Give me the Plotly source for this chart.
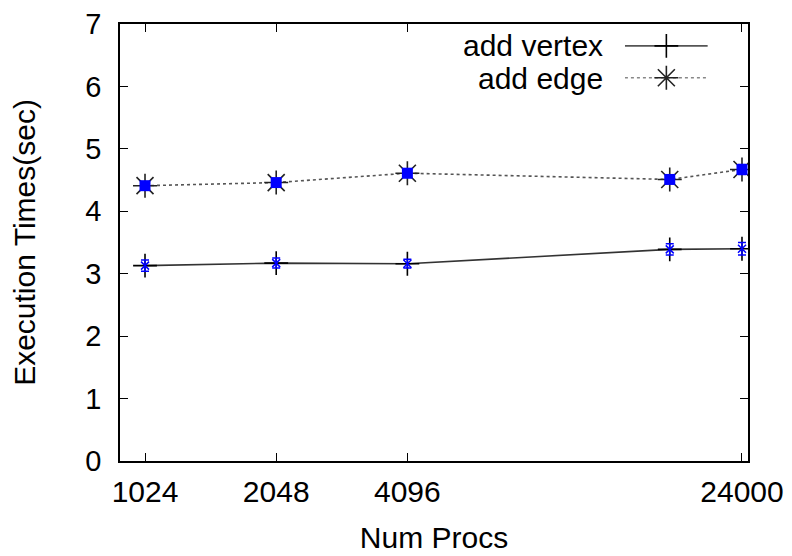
import plotly.graph_objects as go

procs = [1024, 2048, 4096, 16384, 24000]
tick_vals = [1024, 2048, 4096, 24000]
tick_text = ["1024", "2048", "4096", "24000"]
add_vertex = [3.13, 3.17, 3.16, 3.39, 3.40]
add_vertex_err = [0.09, 0.08, 0.07, 0.09, 0.10]
add_edge = [4.41, 4.46, 4.61, 4.51, 4.67]
add_edge_err = [0.06, 0.06, 0.07, 0.06, 0.08]
series_names = ["add vertex", "add edge"]

FONT = "Liberation Sans, Arial, Helvetica, sans-serif"
FS = 30
fig = go.Figure()

fig.add_trace(go.Scatter(
    x=procs, y=add_vertex, mode="lines+markers", name=series_names[0],
    line=dict(color="#333333", width=1.6),
    marker=dict(symbol="cross-thin", size=17, color="black", line=dict(color="black", width=1.6)),
    showlegend=False))
fig.add_trace(go.Scatter(
    x=procs, y=add_edge, mode="lines+markers", name=series_names[1],
    line=dict(color="#555555", width=1.6, dash="dot"),
    marker=dict(symbol="asterisk-open", size=20, color="#222222", line=dict(color="#222222", width=1.6)),
    showlegend=False))
# blue measurement points with error bars
fig.add_trace(go.Scatter(
    x=procs, y=add_vertex, mode="markers",
    marker=dict(symbol="x-thin", size=8, color="blue", line=dict(color="blue", width=1.5)),
    error_y=dict(type="data", array=add_vertex_err, color="blue", thickness=1.5, width=4),
    showlegend=False))
fig.add_trace(go.Scatter(
    x=procs, y=add_edge, mode="markers",
    marker=dict(symbol="square", size=11, color="blue"),
    error_y=dict(type="data", array=add_edge_err, color="blue", thickness=1.5, width=4),
    showlegend=False))

# legend samples on an auxiliary axis pair
fig.add_trace(go.Scatter(x=[0, 1, 2], y=[1, 1, 1], xaxis="x2", yaxis="y2", mode="lines",
                         line=dict(color="#555555", width=1.6), showlegend=False, hoverinfo="skip"))
fig.add_trace(go.Scatter(x=[1], y=[1], xaxis="x2", yaxis="y2", mode="markers",
                         marker=dict(symbol="cross-thin", size=17, color="black",
                                     line=dict(color="black", width=1.6)),
                         showlegend=False, hoverinfo="skip"))
fig.add_trace(go.Scatter(x=[0, 1, 2], y=[0, 0, 0], xaxis="x2", yaxis="y2", mode="lines",
                         line=dict(color="#888888", width=1.6, dash="dot"), showlegend=False, hoverinfo="skip"))
fig.add_trace(go.Scatter(x=[1], y=[0], xaxis="x2", yaxis="y2", mode="markers",
                         marker=dict(symbol="asterisk-open", size=20, color="#222222",
                                     line=dict(color="#222222", width=1.6)),
                         showlegend=False, hoverinfo="skip"))

for name, yp in zip(series_names, [0.950, 0.876]):
    fig.add_annotation(xref="paper", yref="paper", x=0.772, y=yp, text=name, showarrow=False,
                       xanchor="right", yanchor="middle", font=dict(family=FONT, size=FS, color="black"))

fig.update_layout(
    width=784, height=548,
    margin=dict(l=112, r=44, t=16, b=95),
    paper_bgcolor="white", plot_bgcolor="white",
    font=dict(family=FONT, size=FS, color="black"),
    xaxis=dict(type="log", range=[2.9529, 4.394], tickvals=tick_vals, ticktext=tick_text,
               ticks="inside", ticklen=8, tickwidth=1.3, tickcolor="black",
               showline=True, linecolor="black", linewidth=1.5, mirror="allticks",
               showgrid=False, zeroline=False, automargin=False, ticklabelstandoff=3,
               ticklabeloverflow="allow",
               title=dict(text="Num Procs", font=dict(size=FS), standoff=20)),
    yaxis=dict(range=[0, 7], dtick=1, ticks="inside", ticklen=8, tickwidth=1.3, tickcolor="black",
               showline=True, linecolor="black", linewidth=1.5, mirror="allticks",
               showgrid=False, zeroline=False, automargin=False, ticklabelstandoff=11,
               ticklabeloverflow="allow", tickfont=dict(size=29),
               title=dict(text="Execution Times(sec)", font=dict(size=FS), standoff=42)),
    xaxis2=dict(domain=[0.804, 0.936], range=[0, 2], visible=False, anchor="y2"),
    yaxis2=dict(domain=[0.8405, 0.9865], range=[-0.5, 1.5], visible=False, anchor="x2"),
)

fig.write_html("out.html")
